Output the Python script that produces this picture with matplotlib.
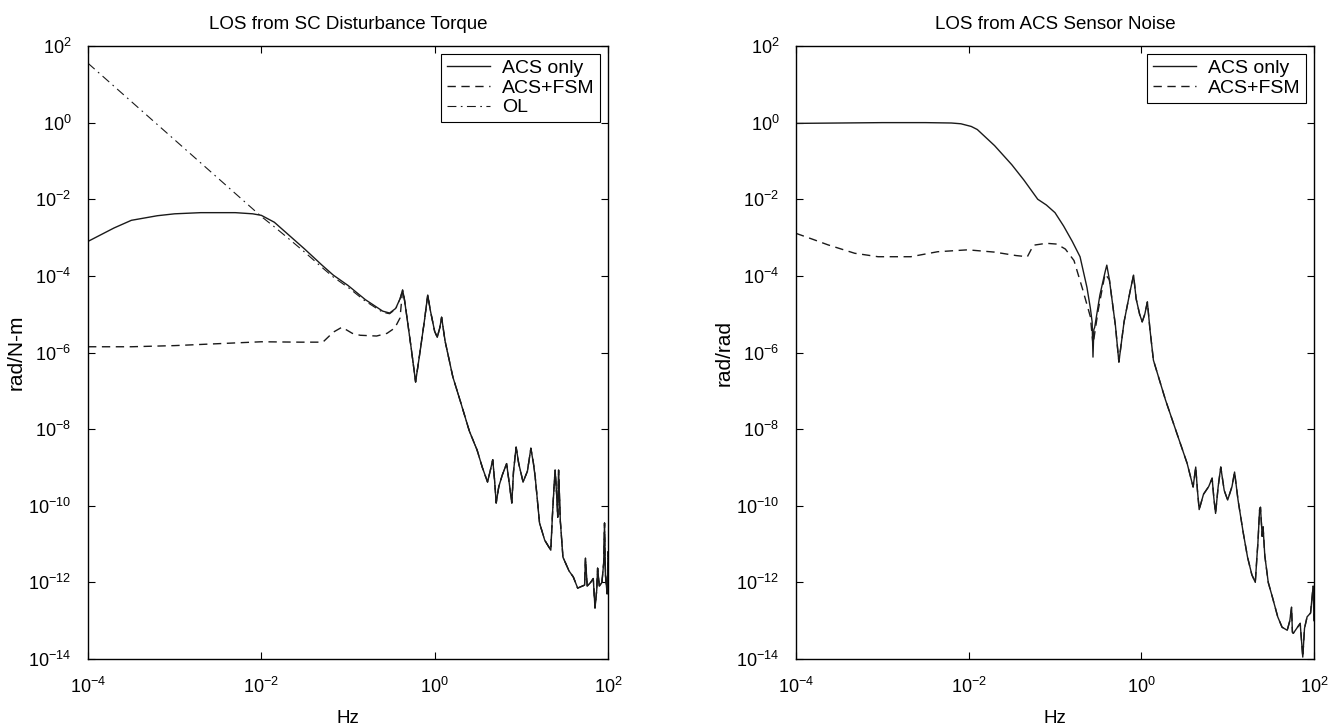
import matplotlib
matplotlib.use("Agg")
import matplotlib.pyplot as plt
import numpy as np

plt.rcParams["font.family"] = ["Liberation Sans", "DejaVu Sans"]
plt.rcParams["mathtext.fontset"] = "custom"
plt.rcParams["mathtext.rm"] = "Liberation Sans"
plt.rcParams["mathtext.default"] = "regular"

# values, stored as log10(Hz) and log10(magnitude)

# --- LOS from SC Disturbance Torque ---
torque_acs_lf = [-4.0, -3.7, -3.5, -3.2, -3.0, -2.7, -2.3, -2.1, -2.0, -1.85, -1.7, -1.5,
                 -1.3, -1.17, -1.0, -0.8, -0.6, -0.52, -0.45, -0.40]
torque_acs_lm = [-3.1, -2.75, -2.55, -2.43, -2.38, -2.35, -2.35, -2.38, -2.42, -2.6, -2.9, -3.3,
                 -3.72, -3.98, -4.25, -4.62, -4.92, -4.97, -4.85, -4.6]

torque_fsm_lf = [-4.0, -3.5, -3.0, -2.5, -2.0, -1.55, -1.29, -1.17, -1.07, -0.95, -0.86,
                 -0.67, -0.55, -0.46, -0.40]
torque_fsm_lm = [-5.85, -5.85, -5.82, -5.77, -5.72, -5.73, -5.73, -5.47, -5.34, -5.5, -5.55,
                 -5.57, -5.5, -5.36, -5.1]

torque_ol_lf = [-4.0, -3.0, -2.0, -1.85, -1.7, -1.5, -1.3, -1.17, -1.0, -0.8, -0.6, -0.52,
                -0.45, -0.40]
torque_ol_lm = [1.55, -0.45, -2.45, -2.72, -3.0, -3.38, -3.78, -4.03, -4.3, -4.66, -4.95,
                -4.99, -4.87, -4.6]

# shared high-frequency part (all curves coincide)
torque_tail_lf = [-0.37, -0.35, -0.32, -0.27, -0.22, -0.17, -0.12, -0.08, -0.05, 0.0, 0.03,
                  0.06, 0.08, 0.12, 0.21, 0.3, 0.4, 0.49, 0.55, 0.61, 0.64, 0.67, 0.69, 0.71,
                  0.74, 0.78, 0.83, 0.86, 0.89, 0.91, 0.94, 0.97, 1.02, 1.07, 1.11, 1.14, 1.16,
                  1.21, 1.27, 1.34, 1.36, 1.38, 1.39, 1.41, 1.42, 1.43, 1.45, 1.48, 1.55, 1.6,
                  1.65, 1.7, 1.73, 1.74, 1.76, 1.8, 1.83, 1.85, 1.87, 1.88, 1.9, 1.93, 1.95,
                  1.96, 1.97, 1.99, 2.0]
torque_tail_lm = [-4.37, -4.6, -5.08, -5.9, -6.77, -6.0, -5.2, -4.5, -4.9, -5.45, -5.6,
                  -5.35, -5.08, -5.7, -6.64, -7.3, -8.05, -8.55, -9.0, -9.38, -9.1, -8.8, -9.3,
                  -9.93, -9.5, -9.2, -8.9, -9.4, -9.93, -9.1, -8.47, -8.9, -9.38, -9.1, -8.5,
                  -8.9, -9.25, -10.45, -10.9, -11.16, -10.2, -9.4, -9.07, -9.8, -10.3, -9.07,
                  -10.4, -11.34, -11.7, -11.86, -12.15, -12.1, -12.07, -11.37, -12.1, -12.0,
                  -11.9, -12.67, -12.2, -11.63, -12.1, -12.0, -11.5, -10.45, -11.8, -12.3,
                  -11.2]

# --- LOS from ACS Sensor Noise ---
noise_acs_lf = [-4.0, -3.5, -3.0, -2.5, -2.2, -2.09, -1.97, -1.9, -1.7, -1.5, -1.36, -1.2,
                -1.1, -1.0, -0.9, -0.8, -0.71, -0.63, -0.59, -0.57, -0.56, -0.55, -0.54,
                -0.48, -0.42]
noise_acs_lm = [-0.02, -0.01, 0.0, 0.0, -0.01, -0.03, -0.1, -0.18, -0.6, -1.1, -1.5, -2.0,
                -2.15, -2.35, -2.7, -3.1, -3.5, -4.3, -4.85, -5.2, -6.12, -5.4, -5.34,
                -4.5, -3.9]

noise_fsm_lf = [-4.0, -3.8, -3.63, -3.32, -3.05, -2.67, -2.36, -2.01, -1.7, -1.45, -1.32,
                -1.25, -1.1, -0.98, -0.88, -0.78, -0.68, -0.59, -0.56, -0.5, -0.45, -0.42]
noise_fsm_lm = [-2.89, -3.05, -3.19, -3.41, -3.5, -3.5, -3.37, -3.32, -3.38, -3.47, -3.5,
                -3.2, -3.15, -3.17, -3.3, -3.6, -4.35, -5.07, -5.8, -4.9, -4.3, -3.95]

noise_tail_lf = [-0.40, -0.37, -0.3, -0.26, -0.2, -0.13, -0.09, -0.06, -0.02, 0.01, 0.04,
                 0.07, 0.1, 0.14, 0.28, 0.41, 0.53, 0.6, 0.63, 0.65, 0.67, 0.72, 0.78, 0.82,
                 0.84, 0.86, 0.89, 0.92, 0.96, 1.0, 1.05, 1.08, 1.12, 1.18, 1.23, 1.28, 1.32,
                 1.34, 1.35, 1.37, 1.38, 1.40, 1.41, 1.43, 1.47, 1.52, 1.58, 1.63, 1.69, 1.72,
                 1.74, 1.75, 1.76, 1.8, 1.84, 1.87, 1.89, 1.92, 1.96, 1.99, 2.0]
noise_tail_lm = [-3.72, -4.1, -5.3, -6.25, -5.2, -4.4, -3.98, -4.6, -5.0, -5.2, -5.0, -4.68,
                 -5.4, -6.2, -7.24, -8.1, -8.89, -9.51, -8.99, -9.6, -10.1, -9.7, -9.5, -9.28,
                 -9.8, -10.2, -9.5, -8.99, -9.6, -9.85, -9.5, -9.12, -9.85, -10.7, -11.34,
                 -11.8, -12.0, -11.3, -10.98, -10.1, -10.04, -10.8, -10.55, -11.3, -12.0,
                 -12.4, -12.9, -13.17, -13.25, -13.0, -12.65, -13.3, -13.33, -13.2, -13.07,
                 -13.95, -13.2, -12.9, -12.8, -12.1, -13.0]


def to_lin(lf, lm):
    return 10.0 ** np.array(lf), 10.0 ** np.array(lm)


fig = plt.figure(figsize=(13.3, 7.25), dpi=100)
ax1 = fig.add_axes([88 / 1330, 1 - 659 / 725, 520 / 1330, 613 / 725])
ax2 = fig.add_axes([796 / 1330, 1 - 659 / 725, 518 / 1330, 613 / 725])

lc = "#1a1a1a"
lw = 1.0

# left panel
f, m = to_lin(torque_acs_lf + torque_tail_lf, torque_acs_lm + torque_tail_lm)
ax1.plot(f, m, "-", color=lc, lw=lw, label="ACS only")
f, m = to_lin(torque_fsm_lf + torque_tail_lf, torque_fsm_lm + torque_tail_lm)
ax1.plot(f, m, "--", color=lc, lw=lw, dashes=(6, 4), label="ACS+FSM")
f, m = to_lin(torque_ol_lf + torque_tail_lf, torque_ol_lm + torque_tail_lm)
ax1.plot(f, m, "-.", color=lc, lw=0.8, dashes=(8, 4, 1.5, 4), label="OL")

# right panel
f, m = to_lin(noise_acs_lf + noise_tail_lf, noise_acs_lm + noise_tail_lm)
ax2.plot(f, m, "-", color=lc, lw=lw, label="ACS only")
f, m = to_lin(noise_fsm_lf + noise_tail_lf[1:], noise_fsm_lm + noise_tail_lm[1:])
ax2.plot(f, m, "--", color=lc, lw=lw, dashes=(6, 4), label="ACS+FSM")

titles = ["LOS from SC Disturbance Torque", "LOS from ACS Sensor Noise"]
ylabels = ["rad/N-m", "rad/rad"]
for ax, t, yl in zip([ax1, ax2], titles, ylabels):
    ax.set_xscale("log")
    ax.set_yscale("log")
    ax.set_xlim(1e-4, 1e2)
    ax.set_ylim(1e-14, 1e2)
    ax.set_xticks([1e-4, 1e-2, 1e0, 1e2])
    ax.set_yticks([10.0 ** k for k in range(-14, 3, 2)])
    ax.minorticks_off()
    ax.tick_params(which="both", direction="in", top=True, right=True,
                   length=5, width=0.8, labelsize=13)
    ax.tick_params(axis="x", pad=13)
    ax.tick_params(axis="y", pad=12)
    for s in ax.spines.values():
        s.set_linewidth(1.0)
    ax.set_title(t, fontsize=13.5, pad=12)
    ax.set_xlabel("Hz", fontsize=13.5, labelpad=9)
    ax.set_ylabel(yl, fontsize=15, labelpad=2)
    leg = ax.legend(loc="upper right", fontsize=14, frameon=True, fancybox=False,
                    edgecolor="black", framealpha=1, handlelength=2.2,
                    borderaxespad=0.4, labelspacing=0.1, borderpad=0.3,
                    handletextpad=0.6)
    leg.get_frame().set_linewidth(0.8)

fig.savefig("out.png", dpi=100)
